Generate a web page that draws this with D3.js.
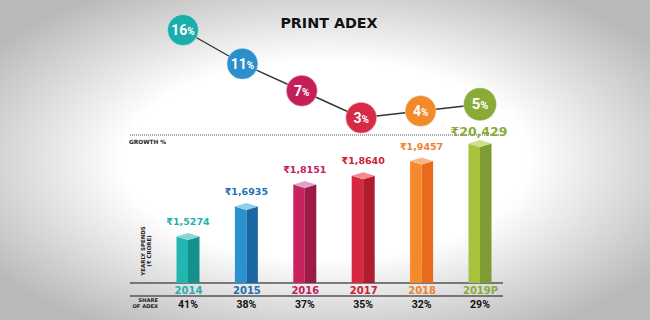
<!DOCTYPE html>
<html><head><meta charset="utf-8">
<script src="https://cdn.jsdelivr.net/npm/d3@7"></script>
<style>html,body{margin:0;padding:0;background:#fff;overflow:hidden}</style>
</head><body>
<svg id="c" width="650" height="320"></svg>
<script>
const years = ["2014","2015","2016","2017","2018","2019P"];
const spends = [15274,16935,18151,18640,19457,20429];
const spendLabels = ["₹1,5274","₹1,6935","₹1,8151","₹1,8640","₹1,9457","₹20,429"];
const growth = [16,11,7,3,4,5];
const share = [41,38,37,35,32,29];
const frontColors = ["#22b6b1","#2a93cf","#c8235f","#d8283f","#f6882c","#a9c23c"];
const sideColors  = ["#15918d","#1a67a6","#9d1947","#b01b2d","#e96a1c","#7e9c34"];
const topColors   = ["#86d6d2","#8fcdec","#dfa2c9","#f28a96","#f9b487","#cfe08c"];
const circleColors= ["#1aaeaa","#2b8fcb","#c41f5a","#d72a45","#f38a2a","#8aaa3a"];
const labelColors = ["#26b0ad","#1f6fb8","#c22060","#cc2035","#f08030","#8aab3a"];

const svg = d3.select("#c");
const W = 650, H = 320;
const FONT = "'DejaVu Sans', 'Noto Sans', sans-serif";
const NARROW = "'Liberation Sans Narrow', 'Roboto', sans-serif";

// vignette background
const defs = svg.append("defs");
const rg = defs.append("radialGradient").attr("id","bg")
  .attr("cx","0.5").attr("cy","0.5").attr("r","0.62");
rg.append("stop").attr("offset","0").attr("stop-color","#ffffff");
rg.append("stop").attr("offset","0.5").attr("stop-color","#ffffff");
rg.append("stop").attr("offset","1").attr("stop-color","#b9b9b9");
svg.append("rect").attr("width",W).attr("height",H).attr("fill","url(#bg)");

// title
svg.append("text").attr("x",329).attr("y",28).attr("text-anchor","middle")
  .attr("font-family",FONT).attr("font-weight",700).attr("font-size",14.3)
  .attr("fill","#111").text("PRINT ADEX");

// scales
const x = d3.scalePoint().domain(years).range([188,480]);
const xg = d3.scalePoint().domain(years).range([183,480]);
const y = d3.scaleLinear().domain([12500,21000]).range([283,129.7]);
const yg = d3.scaleLinear().domain([0,16]).range([138,30]);

// dotted growth line
svg.append("line").attr("x1",130).attr("x2",502).attr("y1",135).attr("y2",135)
  .attr("stroke","#8a8a8a").attr("stroke-width",1.5).attr("stroke-dasharray","1,1");
svg.append("text").attr("x",129).attr("y",143.5).attr("font-family",FONT)
  .attr("font-weight",700).attr("font-size",5.8).attr("fill","#222").text("GROWTH %");

// axis lines
svg.append("line").attr("x1",130).attr("x2",503).attr("y1",283).attr("y2",283)
  .attr("stroke","#555").attr("stroke-width",1.4);
svg.append("line").attr("x1",130).attr("x2",503).attr("y1",296).attr("y2",296)
  .attr("stroke","#555").attr("stroke-width",1.4);

// bars
const bw = 23, d = 3.5;
const data = years.map((yr,i)=>({yr, v:spends[i], i}));
const bars = svg.append("g").selectAll("g").data(data).join("g");
bars.each(function(p){
  const g = d3.select(this);
  const xc = x(p.yr), x0 = xc - bw/2, x1 = xc + bw/2;
  const yt = y(p.v), yb = y(12500);
  g.append("polygon").attr("points",[[x0,yt+d],[xc,yt+2*d],[xc,yb],[x0,yb]].join(" "))
    .attr("fill",frontColors[p.i]);
  g.append("polygon").attr("points",[[xc,yt+2*d],[x1,yt+d],[x1,yb],[xc,yb]].join(" "))
    .attr("fill",sideColors[p.i]);
  g.append("polygon").attr("points",[[x0,yt+d],[xc,yt],[x1,yt+d],[xc,yt+2*d]].join(" "))
    .attr("fill",topColors[p.i]);
  const big = p.i === 5;
  g.append("text").attr("x", xc - (big?1:0)).attr("y", yt - (big?4:8))
    .attr("text-anchor","middle").attr("font-family",FONT).attr("font-weight",700)
    .attr("font-size", big?12.5:9.5).attr("fill",labelColors[p.i]).text(spendLabels[p.i]);
});

// growth line + circles
const line = d3.line().x((v,i)=>xg(years[i])).y(v=>yg(v));
svg.append("path").attr("d",line(growth)).attr("fill","none")
  .attr("stroke","#333").attr("stroke-width",1.4);
const cg = svg.append("g").selectAll("g").data(growth).join("g")
  .attr("transform",(v,i)=>`translate(${xg(years[i])},${yg(v)})`);
cg.append("circle").attr("r",(v,i)=>i===5?16.5:15.5).attr("fill",(v,i)=>circleColors[i])
  .attr("stroke","#fff").attr("stroke-width",0.8).attr("stroke-opacity",0.5);
const ct = cg.append("text").attr("text-anchor","middle").attr("y",5)
  .attr("font-family",NARROW).attr("font-weight",700).attr("fill","#fff");
ct.append("tspan").attr("font-size",(v,i)=>i===5?15:14).text(v=>v);
ct.append("tspan").attr("font-size",(v,i)=>i===5?11:10).text("%");

// year labels via axis
const ax = svg.append("g").attr("transform","translate(0,285)")
  .call(d3.axisBottom(x).tickSize(0).tickPadding(2));
ax.select(".domain").remove();
ax.selectAll("text").attr("font-family",FONT).attr("font-weight",700).attr("font-size",10)
  .attr("fill",(t,i)=>labelColors[i]);

// share labels
svg.append("g").selectAll("text").data(share).join("text")
  .attr("x",(v,i)=>x(years[i])).attr("y",308).attr("text-anchor","middle")
  .attr("font-family",NARROW).attr("font-weight",700)
  .attr("font-size",10.5).attr("fill","#111").text(v=>v+"%");

// side labels
const sl = svg.append("text").attr("font-family",FONT).attr("font-weight",700)
  .attr("font-size",5.2).attr("fill","#222").attr("text-anchor","end");
sl.append("tspan").attr("x",158).attr("y",302).text("SHARE");
sl.append("tspan").attr("x",158).attr("y",308).text("OF ADEX");

const yl = svg.append("text").attr("transform","rotate(-90)")
  .attr("font-family",FONT).attr("font-weight",700).attr("font-size",5.5)
  .attr("fill","#222").attr("text-anchor","middle");
yl.append("tspan").attr("x",-251).attr("y",145).text("YEARLY SPENDS");
yl.append("tspan").attr("x",-251).attr("y",151).text("(₹ CRORE)");
</script>
</body></html>
